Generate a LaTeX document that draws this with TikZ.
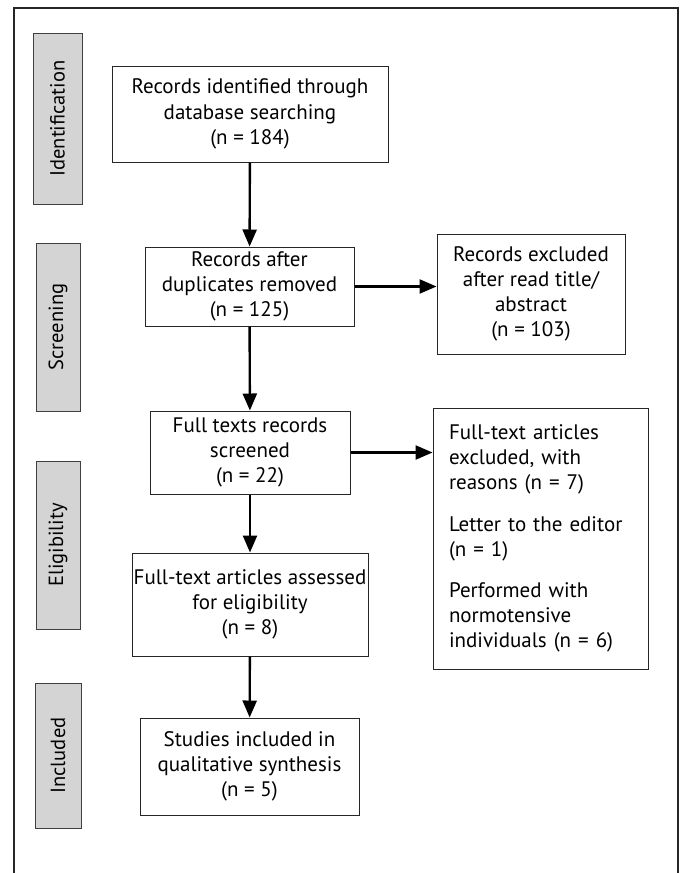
\documentclass[tikz,border=0pt]{standalone}
\usepackage{fontspec}
\setmainfont{PT Sans}
\usetikzlibrary{arrows.meta}

\begin{document}
\begin{tikzpicture}[x=1pt,y=-1pt,
  stage/.style={draw=black!75, fill=black!17, line width=1pt, rotate=90, inner sep=0pt,
    font=\fontsize{20.5}{25}\selectfont},
  box/.style={draw=black!85, line width=1pt, align=center, inner sep=0pt,
    font=\fontsize{21}{25.2}\selectfont},
  flow/.style={line width=2.4pt, -{Triangle[length=17pt,width=14pt]}}]

 \useasboundingbox (0,0) rectangle (682,873);

 % frame, open at the bottom
 \draw[line width=2.2pt, black!85] (14,873) -- (14,8) -- (678,8) -- (678,873);

 % stages
 \node[stage, minimum width=171pt, minimum height=49pt] (ident) at (57.5,118.5) {Identification};
 \node[stage, minimum width=168pt, minimum height=44pt] (scree) at (58,327) {Screening};
 \node[stage, minimum width=168pt, minimum height=44pt] (eligi) at (58,545) {Eligibility};
 \node[stage, minimum width=145pt, minimum height=46pt] (inclu) at (58,755.5) {Included};

 % main column
 \node[box, minimum width=276pt, minimum height=96pt] (found) at (250,114)
   {Records identified through\\database searching\\(n = 184)};
 \node[box, minimum width=209pt, minimum height=79pt] (dupl) at (249.5,286.5)
   {Records after\\duplicates removed\\(n = 125)};
 \node[box, minimum width=200pt, minimum height=83pt] (full) at (250,452.5)
   {Full texts records\\screened\\(n = 22)};
 \node[box, minimum width=236pt, minimum height=103pt] (elig) at (250,604.5)
   {Full-text articles assessed\\for eligibility\\(n = 8)};
 \node[box, minimum width=219pt, minimum height=97pt] (incl) at (249.5,766.5)
   {Studies included in\\qualitative synthesis\\(n = 5)};

 % exclusions
 \node[box, minimum width=188pt, minimum height=120pt] (excl) at (531,294)
   {Records excluded\\after read title/\\abstract\\(n = 103)};
 \node[box, minimum width=215pt, minimum height=261pt, align=left, text width=183pt] (reas) at (540.5,538.5)
   {Full-text articles\\excluded, with\\reasons (n = 7)\\[16pt]
    Letter to the editor\\(n = 1)\\[16pt]
    Performed with\\normotensive\\individuals (n = 6)};

 \draw[flow] (found) -- (dupl);
 \draw[flow] (dupl) -- (full);
 \draw[flow] (full) -- (elig);
 \draw[flow] (elig) -- (incl);
 \draw[flow] (dupl.east) -- (excl.west |- dupl.east);
 \draw[flow] (full.east) -- (reas.west |- full.east);

\end{tikzpicture}
\end{document}
